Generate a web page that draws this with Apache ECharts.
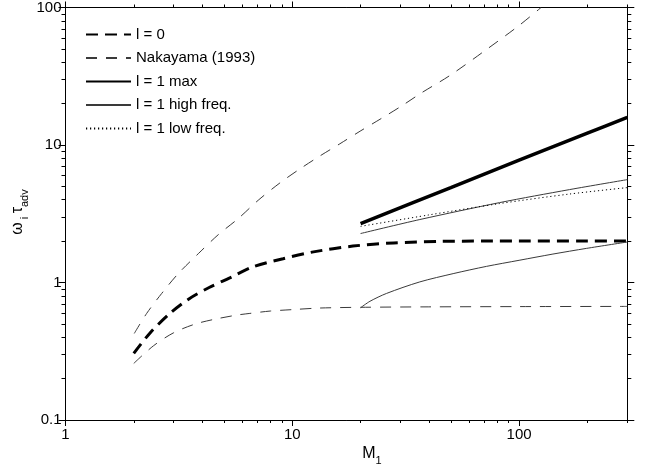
<!DOCTYPE html>
<html>
<head>
<meta charset="utf-8">
<script src="https://cdn.jsdelivr.net/npm/echarts@6/dist/echarts.min.js"></script>
<style>html,body{margin:0;padding:0;background:#fff}#c{width:645px;height:470px}</style>
</head>
<body>
<div id="c"></div>
<script>
// ---- data ----
const l0_M = [2, 2.36, 2.9, 3.5, 4.3, 5.3, 6.7, 9.1, 12.4, 18.5, 28, 45, 70, 100, 200, 300];
const l0_V = [0.305, 0.43, 0.6, 0.76, 0.92, 1.08, 1.3, 1.49, 1.67, 1.84, 1.94, 1.99, 2.0, 2.0, 2.0, 2.0];

const nakUp_M = [2.01, 2.28, 2.655, 3.14, 3.85, 4.72, 5.78, 7.07, 8.82, 10.8, 13.2, 16.2, 19.9, 24.7, 30.3, 37.2, 49.5, 70, 100, 125];
const nakUp_V = [0.426, 0.596, 0.832, 1.16, 1.62, 2.23, 2.92, 3.96, 5.3, 6.7, 8.3, 10.2, 12.6, 15.6, 19.2, 24, 32, 48, 74, 100];

const nakLo_M = [2.0, 2.44, 2.99, 3.72, 4.56, 5.68, 6.5, 8, 10, 13.2, 20, 40, 100, 300];
const nakLo_V = [0.258, 0.346, 0.43, 0.498, 0.541, 0.579, 0.596, 0.62, 0.635, 0.652, 0.66, 0.665, 0.668, 0.67];

const l1max_M = [20, 50, 100, 200, 300];
const l1max_V = [2.68, 4.9, 7.75, 12.2, 15.9];

const hfUp_M = [20, 36.5, 82, 167, 300];
const hfUp_V = [2.27, 2.87, 3.81, 4.74, 5.6];

const hfLo_M = [20, 22, 26, 36.5, 51.2, 71.8, 100, 141, 198, 300];
const hfLo_V = [0.655, 0.73, 0.832, 1.01, 1.16, 1.31, 1.45, 1.61, 1.77, 1.97];

const lf_M = [20, 40, 82, 167, 300];
const lf_V = [2.56, 3.1, 3.75, 4.4, 4.9];

const xMajor = [1, 10, 100];
const xMinor = [2, 3, 4, 5, 6, 7, 8, 9, 20, 30, 40, 50, 60, 70, 80, 90, 200, 300];
const yMajor = [0.1, 1, 10, 100];
const yMinor = [0.2, 0.3, 0.4, 0.5, 0.6, 0.7, 0.8, 0.9, 2, 3, 4, 5, 6, 7, 8, 9, 20, 30, 40, 50, 60, 70, 80, 90];

const names = ['l = 0', 'Nakayama (1993)', 'l = 1 max', 'l = 1 high freq.', 'l = 1 low freq.'];

// ---- chart ----
const FONT = 'Liberation Sans, Arial, sans-serif';
const zip = (a, b) => a.map((v, i) => [v, b[i]]);
const chart = echarts.init(document.getElementById('c'), null, {renderer: 'canvas'});

function xAx(pos, ticks, len, labels) {
  return {
    type: 'log', logBase: 10, min: 1, max: 300, position: pos, gridIndex: 0,
    axisLine: {show: true, onZero: false, lineStyle: {color: '#000', width: 1}},
    axisTick: {show: true, inside: false, length: len, customValues: ticks, lineStyle: {color: '#000', width: 1}},
    axisLabel: labels ? {show: true, customValues: xMajor, margin: 7, color: '#000', fontSize: 15, fontFamily: FONT,
      formatter: v => String(v)} : {show: false},
    splitLine: {show: false}, minorTick: {show: false}
  };
}
function yAx(pos, ticks, len, labels) {
  return {
    type: 'log', logBase: 10, min: 0.1, max: 100, position: pos, gridIndex: 0,
    axisLine: {show: true, onZero: false, lineStyle: {color: '#000', width: 1}},
    axisTick: {show: true, inside: false, length: len, customValues: ticks, lineStyle: {color: '#000', width: 1}},
    axisLabel: labels ? {show: true, customValues: yMajor, margin: 4, color: '#000', fontSize: 15, fontFamily: FONT,
      formatter: v => (v < 1 ? '0.1' : String(Math.round(v)))} : {show: false},
    splitLine: {show: false}, minorTick: {show: false}
  };
}

const thinGrey = '#3a3a3a';
function ser(name, M, V, ls) {
  return {name, type: 'line', data: zip(M, V), xAxisIndex: 0, yAxisIndex: 0,
    symbol: 'none', showSymbol: false, smooth: 0.3, lineStyle: ls, itemStyle: {color: ls.color}, z: 3};
}

const option = {
  animation: false,
  backgroundColor: '#fff',
  grid: {left: 65.5, right: 17.7, top: 7, bottom: 50, containLabel: false},
  xAxis: [xAx('bottom', xMajor, 6, true), xAx('bottom', xMinor, 3, false), xAx('top', xMajor, 6, false), xAx('top', xMinor, 3, false)],
  yAxis: [yAx('left', yMajor, 7, true), yAx('left', yMinor, 4, false), yAx('right', yMajor, 7, false), yAx('right', yMinor, 4, false)],
  legend: {
    show: true, orient: 'vertical', left: 80, top: 22, itemWidth: 45, itemHeight: 14, itemGap: 8.5,
    data: names, selectedMode: false,
    itemStyle: {opacity: 0, color: 'transparent', borderWidth: 0},
    textStyle: {color: '#000', fontSize: 15, fontFamily: FONT}
  },
  series: [
    ser(names[0], l0_M, l0_V, {color: '#000', width: 3, type: [12, 7]}),
    ser(names[1], nakUp_M, nakUp_V, {color: thinGrey, width: 1, type: [11, 9]}),
    ser(names[1], nakLo_M, nakLo_V, {color: thinGrey, width: 1, type: [11, 9]}),
    ser(names[2], l1max_M, l1max_V, {color: '#000', width: 3.5, type: 'solid'}),
    ser(names[3], hfUp_M, hfUp_V, {color: thinGrey, width: 1, type: 'solid'}),
    ser(names[3], hfLo_M, hfLo_V, {color: thinGrey, width: 1, type: 'solid'}),
    ser(names[4], lf_M, lf_V, {color: '#000', width: 1, type: [1.2, 2.8]})
  ],
  graphic: [
    {type: 'text', x: 20, y: 212, rotation: Math.PI / 2, z: 10,
      style: {text: '{a|ω}{s| i} {a|τ}{s|adv}', align: 'center', verticalAlign: 'middle', fill: '#000',
        rich: {a: {fontSize: 16, fontFamily: FONT, lineHeight: 20, verticalAlign: 'top', fill: '#000'},
               s: {fontSize: 11, fontFamily: FONT, lineHeight: 20, verticalAlign: 'bottom', padding: [8, 0, 0, 0], fill: '#000'}}}},
    {type: 'text', x: 372, y: 456, z: 10,
      style: {text: '{a|M}{s|1}', align: 'center', verticalAlign: 'middle', fill: '#000',
        rich: {a: {fontSize: 16, fontFamily: FONT, lineHeight: 20, verticalAlign: 'top', fill: '#000'},
               s: {fontSize: 11, fontFamily: FONT, lineHeight: 20, verticalAlign: 'bottom', padding: [8, 0, 0, 0], fill: '#000'}}}}
  ]
};
chart.setOption(option);
</script>
</body>
</html>
